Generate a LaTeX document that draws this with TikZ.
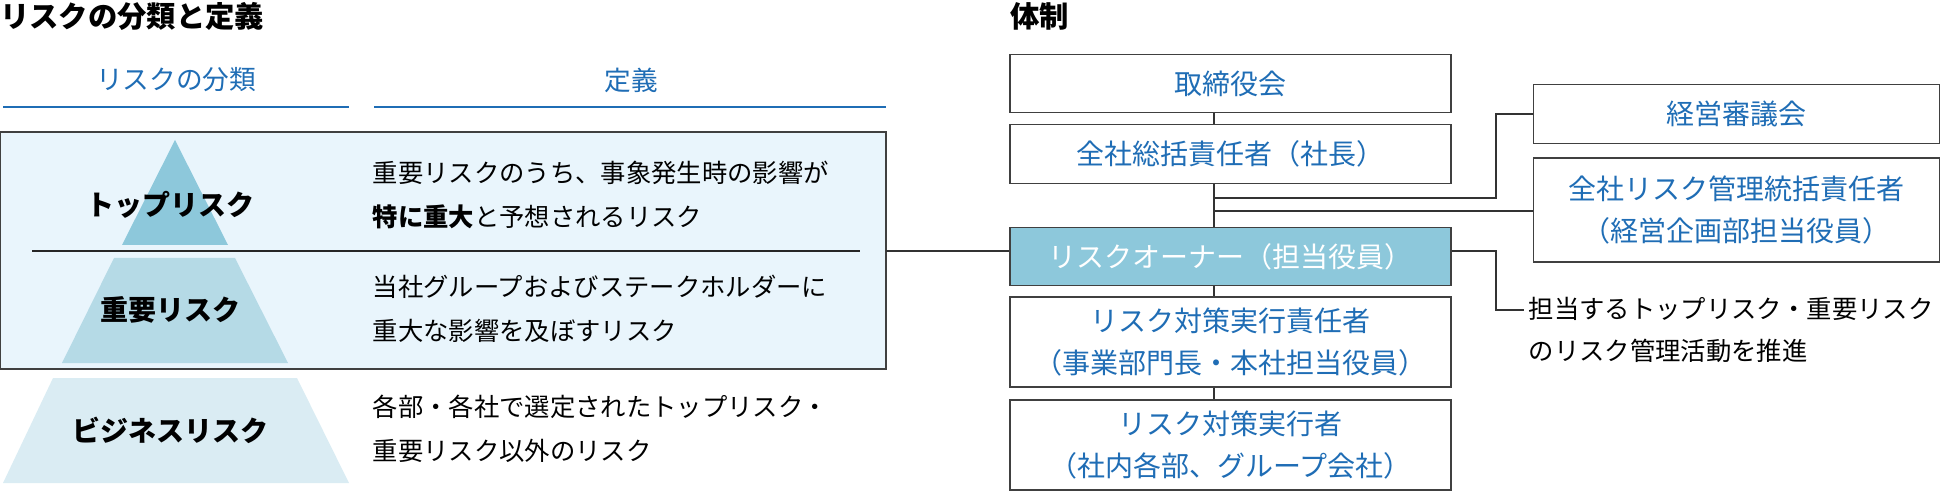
\documentclass[tikz,border=0pt]{standalone}
\usepackage{fontspec}
\setmainfont{Noto Sans CJK JP}
\usetikzlibrary{positioning}
\usetikzlibrary{calc}
\definecolor{riskblue}{HTML}{1F6DB5}
\definecolor{toptri}{HTML}{8DC8DB}
\definecolor{midtri}{HTML}{B5DAE6}
\definecolor{bottri}{HTML}{DAECF3}
\definecolor{panelbg}{HTML}{E9F5FC}
\tikzset{
  orgbox/.style={draw=black!75, line width=0.9pt, minimum width=330.75pt, minimum height=#1, align=center, text=riskblue, font=\fontsize{21}{31}\selectfont},
  orgbox/.default=44pt,
  deftext/.style={anchor=west, align=left, font=\fontsize{19}{33}\selectfont},
  tierlabel/.style={font=\bfseries\fontsize{21}{24}\selectfont},
  heading/.style={font=\bfseries\fontsize{22}{24}\selectfont, anchor=west},
  colhead/.style={text=riskblue, font=\fontsize{20}{22}\selectfont},
  link/.style={draw=black!80, line width=0.8pt}
}
\begin{document}
\begin{tikzpicture}[x=0.75pt,y=-0.75pt]
  \useasboundingbox (0,0) rectangle (1940,491);

  % left half: classification
  \node[heading, inner sep=0pt] (lefttitle) at (0,16) {リスクの分類と定義};
  \node[colhead] (headclass) at (176,80) {リスクの分類};
  \node[colhead] (headdef) at (631,80) {定義};
  \draw[riskblue, line width=1.2pt] (3,107) -- (349,107);
  \draw[riskblue, line width=1.2pt] (374,107) -- (886,107);

  \draw[black!75, line width=0.9pt, fill=panelbg] (0,132) rectangle (886,369);
  \coordinate (panelright) at (886,251);
  \draw[black!85, line width=0.8pt] (32,251) -- (860,251);

  \fill[toptri] (175,140) -- (228,245) -- (122,245) -- cycle;
  \fill[midtri] (114,258) -- (235,258) -- (288,363) -- (62,363) -- cycle;
  \fill[bottri] (53,378) -- (297,378) -- (349,483) -- (3,483) -- cycle;

  \node[tierlabel] (toprisk) at (170,205) {トップリスク};
  \node[tierlabel] (keyrisk) at (170,310) {重要リスク};
  \node[tierlabel] (bizrisk) at (170,430) {ビジネスリスク};

  \node[deftext] (topdef) at (368,195) {重要リスクのうち、事象発生時の影響が\\{\bfseries 特に重大}と予想されるリスク};
  \node[deftext] (keydef) at (368,309) {当社グループおよびステークホルダーに\\重大な影響を及ぼすリスク};
  \node[deftext] (bizdef) at (368,429) {各部・各社で選定されたトップリスク・\\重要リスク以外のリスク};

  % right half: organisation
  \node[heading, inner sep=0pt] (righttitle) at (1010,16) {体制};
  \node[orgbox] (board) at (1230.5,83.5) {取締役会};
  \node[orgbox] (president) at (1230.5,154) {全社総括責任者（社長）};
  \node[orgbox, fill=toptri, text=white] (owner) at (1230.5,256.5) {リスクオーナー（担当役員）};
  \node[orgbox=67.5pt] (officer) at (1230.5,342) {リスク対策実行責任者\\（事業部門長・本社担当役員）};
  \node[orgbox=67.5pt] (doer) at (1230.5,445) {リスク対策実行者\\（社内各部、グループ会社）};
  \node[orgbox, minimum width=305pt] (council) at (1736.5,114) {経営審議会};
  \node[orgbox=78pt, minimum width=305pt] (cro) at (1736.5,210) {全社リスク管理統括責任者\\（経営企画部担当役員）};
  \node[anchor=west, align=left, font=\fontsize{19}{31}\selectfont] (ownernote) at (1524,330) {担当するトップリスク・重要リスク\\のリスク管理活動を推進};

  % connectors
  \draw[link] (board.south -| 1214,0) -- (president.north -| 1214,0);
  \draw[link] (president.south -| 1214,0) -- (owner.north -| 1214,0);
  \draw[link] (owner.south -| 1214,0) -- (officer.north -| 1214,0);
  \draw[link] (officer.south -| 1214,0) -- (doer.north -| 1214,0);
  \draw[link] (1214,198) -| (1496,114) -- (council.west);
  \draw[link] (1214,211) -- (1214,211 -| cro.west);
  \draw[link] (panelright -| owner.east) -| (1496,310) -- (ownernote.west |- 0,310);
  \draw[link] (panelright) -- (panelright -| owner.west);
\end{tikzpicture}
\end{document}
